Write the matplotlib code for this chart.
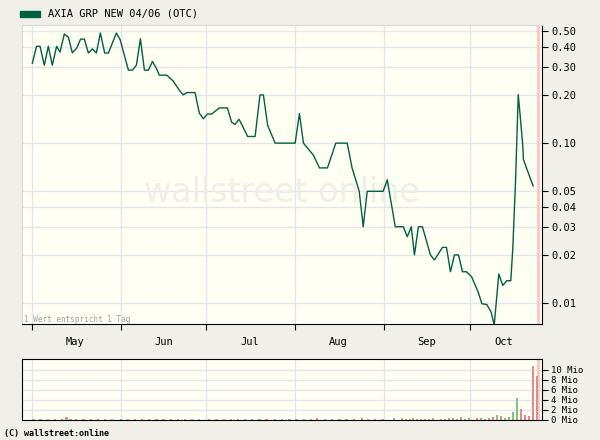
import numpy as np
import matplotlib
matplotlib.use("Agg")
import matplotlib.pyplot as plt
from matplotlib.patches import Rectangle

# price series: x in days since May 1
price_days = [0.1, 1.6, 2.8, 4.3, 5.7, 7.1, 8.6, 9.8, 11.3, 12.7, 14.1, 15.6, 17.0, 18.3, 19.7,
              21.1, 22.5, 23.9, 25.4, 26.7, 29.5, 30.8, 33.7, 35.1, 36.5, 37.9, 39.3, 40.7, 42.1,
              43.5, 44.5, 47.1, 49.4, 51.5, 52.9, 54.1, 57.0, 58.5, 59.9, 61.3, 62.8, 65.5, 68.3,
              69.8, 71.0, 72.4, 75.4, 78.0, 79.7, 80.9, 82.4, 85.0, 92.0, 93.5, 94.9, 98.4, 100.5,
              103.3, 106.2, 110.2, 111.9, 114.4, 115.8, 117.2, 122.8, 124.2, 127.0, 129.8, 131.2,
              132.6, 133.7, 135.1, 136.5, 139.3, 140.7, 143.5, 144.9, 146.3, 147.7, 149.1, 150.5,
              151.9, 153.7, 156.0, 157.3, 159.0, 160.5, 161.6, 163.2, 164.6, 166.0, 167.4, 168.1,
              169.1, 170.0, 170.6, 171.6, 171.8, 174.1, 175.2]
prices = [0.316, 0.403, 0.403, 0.307, 0.403, 0.307, 0.403, 0.371, 0.481, 0.460, 0.367, 0.392,
          0.447, 0.447, 0.366, 0.388, 0.366, 0.488, 0.366, 0.366, 0.488, 0.444, 0.286, 0.286,
          0.307, 0.449, 0.286, 0.286, 0.324, 0.293, 0.266, 0.266, 0.244, 0.214, 0.200, 0.207,
          0.207, 0.154, 0.142, 0.152, 0.152, 0.166, 0.166, 0.135, 0.131, 0.141, 0.110, 0.110,
          0.200, 0.200, 0.129, 0.100, 0.100, 0.153, 0.100, 0.084, 0.070, 0.070, 0.100, 0.100,
          0.070, 0.050, 0.030, 0.050, 0.050, 0.059, 0.030, 0.030, 0.026, 0.030, 0.020, 0.030,
          0.030, 0.020, 0.0186, 0.0223, 0.0223, 0.0157, 0.020, 0.020, 0.0157, 0.0157, 0.0146,
          0.0117, 0.0099, 0.0098, 0.0088, 0.0073, 0.0152, 0.0129, 0.0138, 0.0138, 0.0221, 0.061,
          0.201, 0.154, 0.095, 0.079, 0.061, 0.054]

# volume in Mio
vol_days = [0.5, 3, 5.5, 8, 10.5, 12.1, 13.5, 15.5, 18, 20.5, 23, 25.5, 28, 31, 33.5, 36, 38.5,
            41, 43.5, 46, 48.5, 51, 53.5, 56, 58.5, 62, 64.5, 67, 69.5, 72, 74.5, 77, 79.5, 82,
            85, 87.5, 90, 92.5, 95, 97.5, 99.7, 102.5, 105, 107.5, 110, 112.5, 115.4, 117.5,
            120, 122.5, 126.6, 129.3, 130.7, 132.1, 133.1, 134.5, 135.9, 137.3, 138.7, 140.1,
            142.9, 144.3, 145.7, 147.1, 148.5, 149.9, 151.3, 152.7, 155.5, 156.9, 158.3, 159.7,
            161.1, 162.5, 163.9, 165.3, 166.7, 168.1, 169.5, 170.9, 172.3, 173.7, 175.1, 176.5]
volumes = [0.12, 0.12, 0.12, 0.12, 0.12, 0.45, 0.12, 0.12, 0.12, 0.12, 0.12, 0.12, 0.12, 0.12,
           0.12, 0.12, 0.12, 0.12, 0.12, 0.12, 0.12, 0.12, 0.12, 0.12, 0.12, 0.12, 0.12, 0.12,
           0.12, 0.12, 0.12, 0.12, 0.12, 0.12, 0.12, 0.12, 0.12, 0.12, 0.12, 0.12, 0.35, 0.12,
           0.12, 0.12, 0.12, 0.12, 0.35, 0.12, 0.12, 0.12, 0.27, 0.27, 0.13, 0.13, 0.27, 0.13,
           0.13, 0.13, 0.13, 0.27, 0.13, 0.13, 0.27, 0.27, 0.13, 0.41, 0.13, 0.27, 0.27, 0.27,
           0.13, 0.27, 0.47, 0.88, 0.68, 0.34, 0.47, 1.5, 4.3, 2.1, 0.9, 0.68, 10.8, 8.8]
vol_up = "gggrgrgrgrgrgrgrgrgrgrgrgrgrgrgrgrgrgrgrrgrgrgrgrrgrgrgrrrrrggrggrgrrrgrrgrggggrrrrr"

month_starts = [0, 31, 61, 92, 123, 153]
month_mids = [15, 46, 76, 107, 138, 165]
month_labels = ["May", "Jun", "Jul", "Aug", "Sep", "Oct"]
price_ticks = [0.5, 0.4, 0.3, 0.2, 0.1, 0.05, 0.04, 0.03, 0.02, 0.01]
vol_ticks = [0, 2, 4, 6, 8, 10]

BG = "#f0f0e8"
PANEL = "#fffff4"
GRID = "#e6e6ea"
LINE = "#006040"
MONO = "DejaVu Sans Mono"

fig = plt.figure(figsize=(6, 4.4), dpi=100, facecolor=BG)
xl = (-3.5, 178.2)

ax = fig.add_axes([22 / 600, 116 / 440, 519.7 / 600, 299.3 / 440], facecolor=PANEL)
ax.set_yscale("log")
ax.set_xlim(*xl)
ax.set_ylim(0.0074, 0.55)
ax.axvspan(176.6, 177.6, color="#ffc8c8", lw=0)
for d in month_starts:
    ax.axvline(d, color=GRID, lw=1, zorder=0)
for p in price_ticks:
    ax.axhline(p, color=GRID, lw=1, zorder=0)
ax.plot(price_days, prices, color=LINE, lw=1)
ax.text(0.5, 0.44, "wallstreet online", transform=ax.transAxes, ha="center",
        va="center", fontsize=24, color="#efefe8", zorder=0.5)
ax.text(0.003, 0.008, "1 Wert entspricht 1 Tag", transform=ax.transAxes, fontsize=5.5,
        color="#a0a0a0", family=MONO)

ax.yaxis.tick_right()
ax.set_yticks(price_ticks)
ax.set_yticklabels(["%.2f" % p for p in price_ticks], family=MONO, fontsize=7.5)
ax.yaxis.set_minor_locator(plt.NullLocator())
ax.set_xticks(month_starts)
ax.set_xticklabels([])
ax.set_xticks(month_mids, minor=True)
ax.set_xticklabels(month_labels, minor=True, family=MONO, fontsize=7.5)
ax.tick_params(axis="x", which="minor", length=0, pad=9)
ax.tick_params(axis="x", which="major", length=4, direction="out")
ax.tick_params(axis="y", length=4, direction="out", pad=3)
for s in ["left", "top"]:
    ax.spines[s].set_color("#d8d8d8")
for s in ["bottom", "right"]:
    ax.spines[s].set_color("black")

vx = fig.add_axes([22 / 600, 20 / 440, 519.7 / 600, 61 / 440], facecolor=PANEL)
vx.set_xlim(*xl)
vx.set_ylim(-0.1, 12.2)
for d in month_starts:
    vx.axvline(d, color=GRID, lw=1, zorder=0)
for v in vol_ticks:
    vx.axhline(v, color=GRID, lw=1, zorder=0)
vx.axvspan(176.6, 177.6, color="#ffc8c8", lw=0)
cols = ["#80c480" if c == "g" else "#e08c8c" for c in vol_up]
vx.bar(vol_days, volumes, width=0.8, color=cols, lw=0)
vx.yaxis.tick_right()
vx.set_yticks(vol_ticks)
vx.set_yticklabels(["%d Mio" % v for v in vol_ticks], family=MONO, fontsize=6.5)
vx.set_xticks([])
vx.tick_params(axis="y", length=4, pad=3)

fig.patches.append(Rectangle((20 / 600, 1 - 17 / 440), 20 / 600, 6 / 440,
                             transform=fig.transFigure, color=LINE))
fig.text(48 / 600, 1 - 14 / 440, "AXIA GRP NEW 04/06 (OTC)", family=MONO, fontsize=7.5,
         va="center")
fig.text(4 / 600, 7 / 440, "(C) wallstreet:online", family=MONO, fontsize=6,
         fontweight="bold", va="center")

fig.savefig("out.png", dpi=100, facecolor=BG)
